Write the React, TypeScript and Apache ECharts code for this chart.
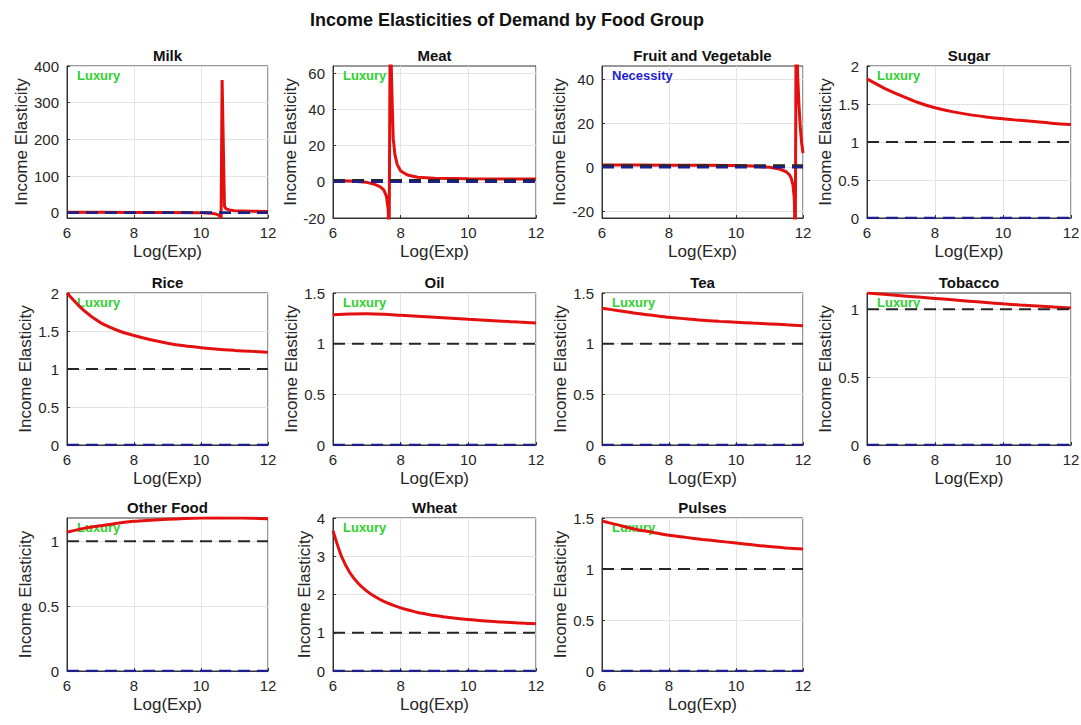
import React, { useEffect, useRef } from "react";
import * as echarts from "echarts";

// ---- shared axis settings ----
const X_MIN = 6;
const X_MAX = 12;
const X_STEP = 2;
const UNITARY = 1; // unit elasticity reference
const ZERO = 0; // zero elasticity reference

// ---- panel titles and tags ----
const foodGroups = [
  "Milk",
  "Meat",
  "Fruit and Vegetable",
  "Sugar",
  "Rice",
  "Oil",
  "Tea",
  "Tobacco",
  "Other Food",
  "Wheat",
  "Pulses",
];
const groupTags = [
  "Luxury",
  "Luxury",
  "Necessity",
  "Luxury",
  "Luxury",
  "Luxury",
  "Luxury",
  "Luxury",
  "Luxury",
  "Luxury",
  "Luxury",
];

// ---- y-axis ranges and ticks ----
const yMins = [-14, -20, -23, 0, 0, 0, 0, 0, 0, 0, 0];
const yMaxs = [400, 64, 46, 2, 2, 1.5, 1.5, 1.12, 1.18, 4, 1.5];
const yTicks = [
  [0, 100, 200, 300, 400],
  [-20, 0, 20, 40, 60],
  [-20, 0, 20, 40],
  [0, 0.5, 1, 1.5, 2],
  [0, 0.5, 1, 1.5, 2],
  [0, 0.5, 1, 1.5],
  [0, 0.5, 1, 1.5],
  [0, 0.5, 1],
  [0, 0.5, 1],
  [0, 1, 2, 3, 4],
  [0, 0.5, 1, 1.5],
];

// ---- elasticity curves (log expenditure -> elasticity) ----
const milkX = [6, 7, 8, 9, 10, 10.3, 10.45, 10.55, 10.6, 10.63, 10.7, 10.75, 10.85, 11, 11.5, 12];
const milkY = [1.5, 1.4, 1.3, 1.0, 0.2, -1, -3, -8, -14, 362, 18, 11, 8, 6, 4.5, 3.6];

const meatX = [6, 6.5, 7, 7.2, 7.4, 7.5, 7.58, 7.63, 7.66, 7.69, 7.74, 7.78, 7.83, 7.9, 8.0, 8.2, 8.5, 9, 10, 11, 12];
const meatY = [0.6, 0.4, -0.3, -1.2, -2.8, -4.5, -8, -15, -30, 90, 50, 24, 15, 9.5, 6, 3.8, 2.5, 1.9, 1.7, 1.6, 1.5];

const fruitX = [6, 7, 8, 9, 10, 10.5, 11, 11.3, 11.5, 11.6, 11.65, 11.7, 11.74, 11.77, 11.8, 11.84, 11.88, 11.92, 11.96, 12];
const fruitY = [1.1, 1.05, 1.0, 0.95, 0.8, 0.6, 0.0, -0.8, -2, -3.5, -5, -8, -14, -35, 90, 42, 28, 18, 11, 6.5];

// evenly spaced expenditure grid for the smooth curves
const halfStepX = [6, 6.5, 7, 7.5, 8, 8.5, 9, 9.5, 10, 10.5, 11, 11.5, 12];
const quarterStepX = [
  6, 6.25, 6.5, 6.75, 7, 7.25, 7.5, 7.75, 8, 8.25, 8.5, 8.75, 9, 9.25, 9.5, 9.75, 10, 10.25, 10.5,
  10.75, 11, 11.25, 11.5, 11.75, 12,
];

const sugarY = [1.83, 1.71, 1.61, 1.52, 1.45, 1.4, 1.36, 1.33, 1.305, 1.285, 1.265, 1.245, 1.23];
const riceY = [2.0, 1.77, 1.61, 1.51, 1.44, 1.385, 1.34, 1.305, 1.28, 1.26, 1.245, 1.232, 1.222];
const oilY = [1.285, 1.293, 1.295, 1.29, 1.28, 1.27, 1.26, 1.25, 1.24, 1.231, 1.222, 1.213, 1.205];
const teaY = [1.35, 1.325, 1.3, 1.28, 1.26, 1.245, 1.23, 1.22, 1.212, 1.203, 1.195, 1.186, 1.178];
const tobaccoY = [1.12, 1.11, 1.1, 1.09, 1.08, 1.07, 1.06, 1.05, 1.04, 1.032, 1.025, 1.017, 1.01];
const otherFoodY = [1.07, 1.1, 1.12, 1.14, 1.155, 1.163, 1.17, 1.176, 1.18, 1.181, 1.18, 1.178, 1.175];
const wheatY = [
  3.67, 3.0, 2.57, 2.29, 2.09, 1.94, 1.82, 1.73, 1.65, 1.59, 1.53, 1.49, 1.45, 1.42, 1.39, 1.365,
  1.345, 1.325, 1.31, 1.295, 1.28, 1.27, 1.255, 1.245, 1.235,
];
const pulsesY = [1.47, 1.43, 1.39, 1.36, 1.33, 1.31, 1.29, 1.272, 1.255, 1.237, 1.22, 1.207, 1.195];

const curveXs = [
  milkX,
  meatX,
  fruitX,
  halfStepX,
  halfStepX,
  halfStepX,
  halfStepX,
  halfStepX,
  halfStepX,
  quarterStepX,
  halfStepX,
];
const curveYs = [milkY, meatY, fruitY, sugarY, riceY, oilY, teaY, tobaccoY, otherFoodY, wheatY, pulsesY];
const spiky = [true, true, true, false, false, false, false, false, false, false, false];

// ---- layout (pixels) ----
const COL_LEFT = [67, 333, 602, 867];
const COL_WIDTH = [201, 203, 201, 204];
const ROW_TOP = [66, 293, 518];
const ROW_HEIGHT = [152, 152, 153];
const Y_NAME_GAP = [35, 32, 33, 30, 30, 30, 31, 30, 30, 18, 30];

const FONT = '"Liberation Sans", Arial, Helvetica, sans-serif';
const AXIS_COLOR = "#333333";
const TEXT_COLOR = "#262626";
const GRID_COLOR = "#e3e3e3";
const RED = "#e3100f";
const DASH_BLACK = "#262626";
const DASH_BLUE = "#1c1f8c";
const TAG_COLORS: Record<string, string> = { Luxury: "#2fd12f", Necessity: "#1e1ed2" };

function buildOption() {
  const grid: any[] = [];
  const xAxis: any[] = [];
  const yAxis: any[] = [];
  const series: any[] = [];
  const graphic: any[] = [];

  graphic.push({
    type: "text",
    x: 507,
    y: 20,
    z: 100,
    style: {
      text: "Income Elasticities of Demand by Food Group",
      font: `bold 18px ${FONT}`,
      fill: "#111",
      textAlign: "center",
      textVerticalAlign: "middle",
    },
  });

  foodGroups.forEach((name, i) => {
    const row = Math.floor(i / 4);
    const col = i % 4;
    const left = COL_LEFT[col];
    const top = ROW_TOP[row];
    const width = COL_WIDTH[col];
    const height = ROW_HEIGHT[row];

    grid.push({
      left,
      top,
      width,
      height,
      show: true,
      backgroundColor: "transparent",
      borderColor: AXIS_COLOR,
      borderWidth: 1,
      containLabel: false,
      outerBoundsMode: "none",
    });

    xAxis.push({
      type: "value",
      gridIndex: i,
      min: X_MIN,
      max: X_MAX,
      interval: X_STEP,
      name: "Log(Exp)",
      nameLocation: "middle",
      nameGap: 25,
      nameTextStyle: { fontFamily: FONT, fontSize: 17, color: TEXT_COLOR },
      axisLine: { show: true, onZero: false, lineStyle: { color: AXIS_COLOR, width: 1 } },
      axisTick: { show: true, inside: true, length: 3, lineStyle: { color: AXIS_COLOR } },
      axisLabel: { fontFamily: FONT, fontSize: 15, color: TEXT_COLOR, margin: 7 },
      splitLine: { show: true, lineStyle: { color: GRID_COLOR, width: 1 } },
    });

    yAxis.push({
      type: "value",
      gridIndex: i,
      min: yMins[i],
      max: yMaxs[i],
      name: "Income Elasticity",
      nameLocation: "middle",
      nameGap: Y_NAME_GAP[i],
      nameTextStyle: { fontFamily: FONT, fontSize: 17, color: TEXT_COLOR },
      axisLine: { show: true, onZero: false, lineStyle: { color: AXIS_COLOR, width: 1 } },
      axisTick: {
        show: true,
        inside: true,
        length: 3,
        customValues: yTicks[i],
        lineStyle: { color: AXIS_COLOR },
      },
      axisLabel: {
        fontFamily: FONT,
        fontSize: 15,
        color: TEXT_COLOR,
        margin: 8,
        customValues: yTicks[i],
      },
      splitLine: { show: true, lineStyle: { color: GRID_COLOR, width: 1 } },
    });

    const xs = curveXs[i];
    const ys = curveYs[i];
    series.push({
      type: "line",
      xAxisIndex: i,
      yAxisIndex: i,
      data: xs.map((x, k) => [x, ys[k]]),
      showSymbol: false,
      symbol: "none",
      smooth: spiky[i] ? false : 0.3,
      clip: true,
      lineStyle: { color: RED, width: 3 },
      z: 10,
    });
    series.push({
      type: "line",
      xAxisIndex: i,
      yAxisIndex: i,
      data: [
        [X_MIN, UNITARY],
        [X_MAX, UNITARY],
      ],
      showSymbol: false,
      symbol: "none",
      clip: true,
      lineStyle: { color: DASH_BLACK, width: 2, type: [12, 7] },
      z: 11,
    });
    series.push({
      type: "line",
      xAxisIndex: i,
      yAxisIndex: i,
      data: [
        [X_MIN, ZERO],
        [X_MAX, ZERO],
      ],
      showSymbol: false,
      symbol: "none",
      clip: true,
      lineStyle: { color: DASH_BLUE, width: 2.5, type: [12, 7] },
      z: 12,
    });

    graphic.push({
      type: "text",
      x: left + width / 2,
      y: top - 11,
      z: 100,
      style: {
        text: name,
        font: `bold 15px ${FONT}`,
        fill: "#111",
        textAlign: "center",
        textVerticalAlign: "middle",
      },
    });
    const tag = groupTags[i];
    graphic.push({
      type: "text",
      x: left + 10,
      y: top + 9,
      z: 5,
      style: {
        text: tag,
        font: `bold 13px ${FONT}`,
        fill: TAG_COLORS[tag],
        textAlign: "left",
        textVerticalAlign: "middle",
      },
    });
  });

  return {
    animation: false,
    backgroundColor: "#ffffff",
    grid,
    xAxis,
    yAxis,
    series,
    graphic,
  };
}

export default function App() {
  const ref = useRef<HTMLDivElement>(null);

  useEffect(() => {
    if (!ref.current) return;
    const chart = echarts.init(ref.current, undefined, { renderer: "svg" });
    chart.setOption(buildOption() as any);
    return () => chart.dispose();
  }, []);

  return (
    <div
      ref={ref}
      style={{ position: "fixed", left: 0, top: 0, width: 1081, height: 725, background: "#fff" }}
    />
  );
}
